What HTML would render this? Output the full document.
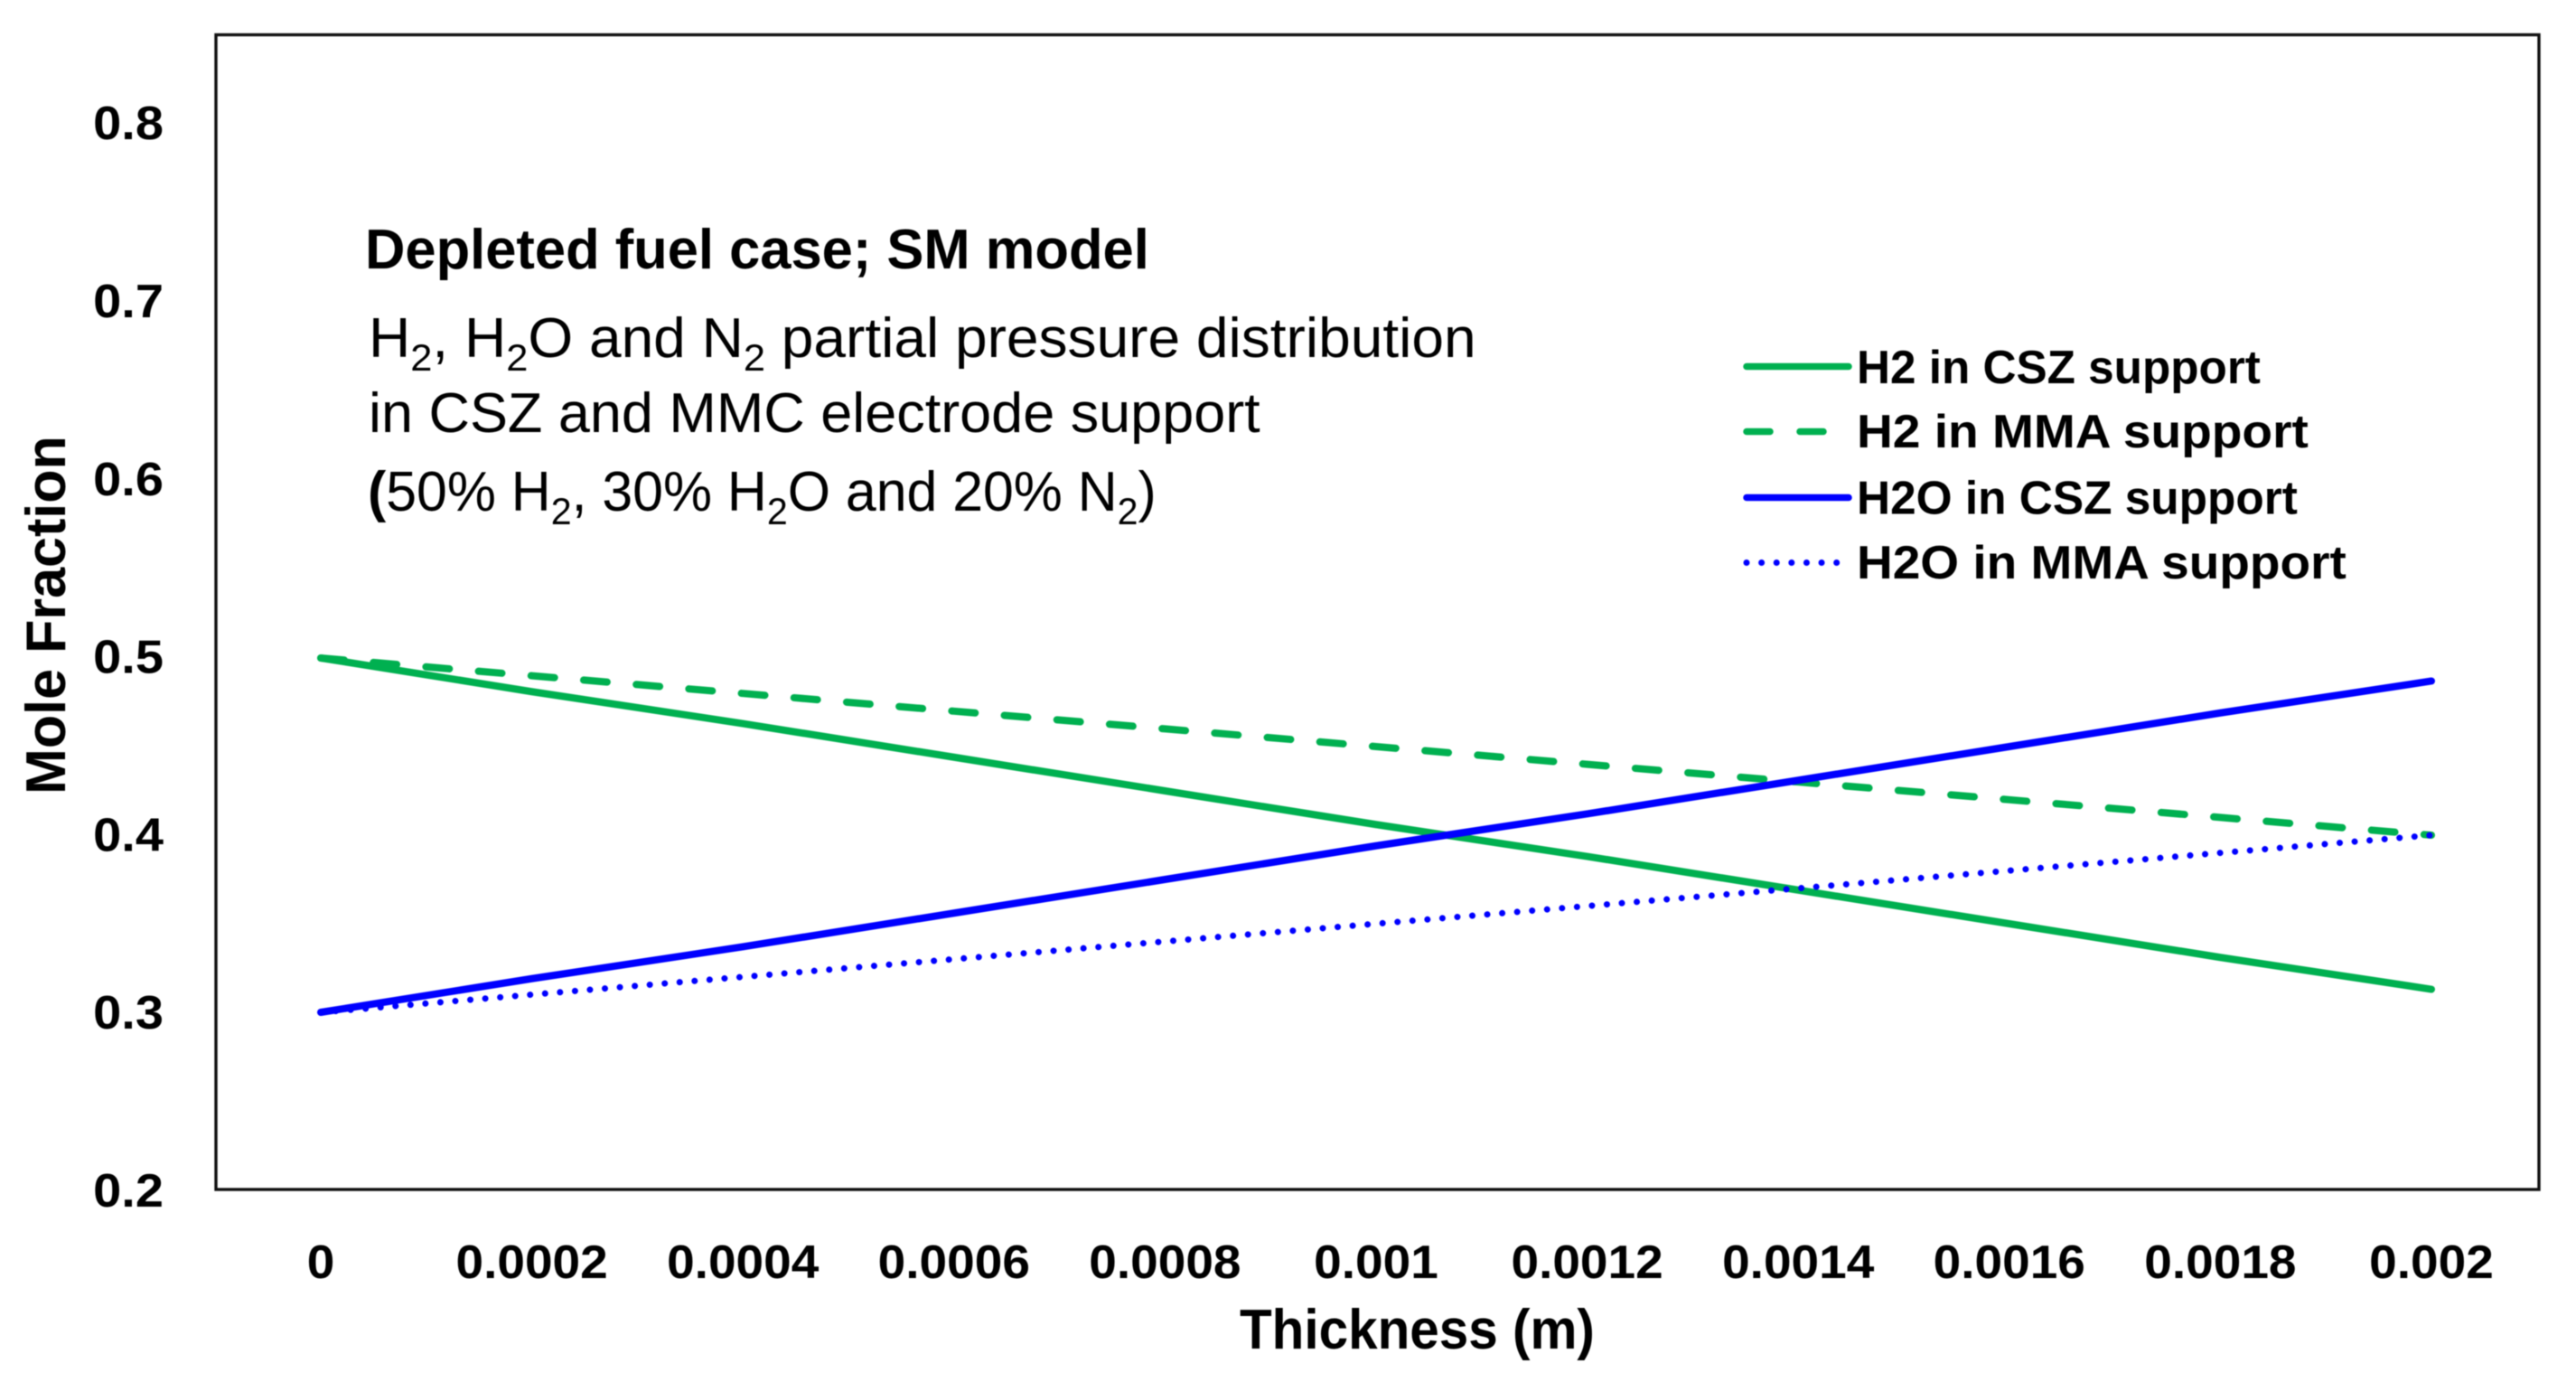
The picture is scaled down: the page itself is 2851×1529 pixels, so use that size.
<!DOCTYPE html>
<html lang="en">
<head>
<meta charset="utf-8">
<title>Depleted fuel case; SM model</title>
<style>
html,body{margin:0;padding:0;background:#fff;}
svg{display:block;filter:blur(0.6px);}
text{font-family:"Liberation Sans",sans-serif;fill:#000;}
.bold{font-weight:bold;}
</style>
</head>
<body>
<svg id="chart" xmlns="http://www.w3.org/2000/svg" width="2851" height="1529" viewBox="0 0 2851 1529">
  <rect x="0" y="0" width="2851" height="1529" fill="#ffffff"/>
  <rect x="239" y="38.5" width="2571" height="1277.5" fill="none" stroke="#111111" stroke-width="3.4"/>
  <g id="series-layer"></g>
  <g id="y-ticks"></g>
  <g id="x-ticks"></g>

  <text class="bold fit" data-w="393" x="1372" y="1492" font-size="62">Thickness (m)</text>
  <text class="bold fit" data-w="397" data-rot="1" x="72" y="879" font-size="62">Mole Fraction</text>

  <text class="bold fit" data-w="868" x="404" y="297" font-size="62">Depleted fuel case; SM model</text>
  <text class="fit" data-w="1226" x="408" y="395" font-size="62">H<tspan font-size="42" dy="15">2</tspan><tspan dy="-15">, H</tspan><tspan font-size="42" dy="15">2</tspan><tspan dy="-15">O and N</tspan><tspan font-size="42" dy="15">2</tspan><tspan dy="-15"> partial pressure distribution</tspan></text>
  <text class="fit" data-w="987" x="408" y="478" font-size="62">in CSZ and MMC electrode support</text>
  <text class="fit" data-w="873" x="407" y="565" font-size="62"><tspan font-weight="bold">(</tspan>50% H<tspan font-size="42" dy="15">2</tspan><tspan dy="-15">, 30% H</tspan><tspan font-size="42" dy="15">2</tspan><tspan dy="-15">O and 20% N</tspan><tspan font-size="42" dy="15">2</tspan><tspan dy="-15">)</tspan></text>

  <g id="legend">
    <line x1="1933" y1="405.5" x2="2046" y2="405.5" stroke="#00B050" stroke-width="7.5" stroke-linecap="round"/>
    <text class="bold fit" data-w="447" x="2055" y="424" font-size="52">H2 in CSZ support</text>
    <line x1="1933" y1="477.5" x2="2018" y2="477.5" stroke="#00B050" stroke-width="7.5" stroke-linecap="round" stroke-dasharray="26 33"/>
    <text class="bold fit" data-w="500" x="2055" y="495" font-size="52">H2 in MMA support</text>
    <line x1="1933" y1="550.5" x2="2046" y2="550.5" stroke="#0000FF" stroke-width="7.5" stroke-linecap="round"/>
    <text class="bold fit" data-w="488" x="2055" y="568.5" font-size="52">H2O in CSZ support</text>
    <line x1="1933" y1="622.5" x2="2040" y2="622.5" stroke="#0000FF" stroke-width="7" stroke-linecap="round" stroke-dasharray="0.01 16.6"/>
    <text class="bold fit" data-w="542" x="2055" y="640" font-size="52">H2O in MMA support</text>
  </g>
</svg>

<script>
// Chart data
const thickness = [0, 0.0002, 0.0004, 0.0006, 0.0008, 0.001, 0.0012, 0.0014, 0.0016, 0.0018, 0.002];
const xTickLabels = ["0", "0.0002", "0.0004", "0.0006", "0.0008", "0.001", "0.0012", "0.0014", "0.0016", "0.0018", "0.002"];
const yTickValues = [0.2, 0.3, 0.4, 0.5, 0.6, 0.7, 0.8];
const yTickLabels = ["0.2", "0.3", "0.4", "0.5", "0.6", "0.7", "0.8"];
const h2Csz = [0.5, 0.481, 0.463, 0.444, 0.425, 0.406, 0.388, 0.369, 0.35, 0.331, 0.313];
const h2Mma = [0.5, 0.49, 0.48, 0.47, 0.46, 0.45, 0.44, 0.43, 0.42, 0.41, 0.4];
const h2oCsz = [0.3, 0.319, 0.337, 0.356, 0.375, 0.394, 0.412, 0.431, 0.45, 0.469, 0.487];
const h2oMma = [0.3, 0.31, 0.32, 0.33, 0.34, 0.35, 0.36, 0.37, 0.38, 0.39, 0.4];

const NS = "http://www.w3.org/2000/svg";
function xScale(v) { return 355 + (v / 0.002) * 2336; }
function yScale(v) { return 1316 - ((v - 0.2) / 0.1) * 196; }
function yLabelBaseline(v) { return 1335 - ((v - 0.2) / 0.1) * 196.8; }

function pathFor(values) {
  return values.map(function (v, i) {
    return (i === 0 ? "M" : "L") + xScale(thickness[i]).toFixed(2) + " " + yScale(v).toFixed(2);
  }).join(" ");
}

function drawSeries(values, name, color, width, cap, dash) {
  const p = document.createElementNS(NS, "path");
  p.setAttribute("d", pathFor(values));
  p.setAttribute("fill", "none");
  p.setAttribute("stroke", color);
  p.setAttribute("stroke-width", width);
  p.setAttribute("stroke-linecap", cap);
  p.setAttribute("stroke-linejoin", "round");
  if (dash) p.setAttribute("stroke-dasharray", dash);
  
  
  document.getElementById("series-layer").appendChild(p);
}
drawSeries(h2Csz, "line-h2-csz", "#00B050", 8, "round", null);
drawSeries(h2Mma, "line-h2-mma", "#00B050", 8, "round", "26 32.4");
drawSeries(h2oCsz, "line-h2o-csz", "#0000FF", 8, "round", null);
drawSeries(h2oMma, "line-h2o-mma", "#0000FF", 7, "round", "0.01 16.6");

function stretch(el, sx, ax, ay) {
  el.setAttribute("transform", "translate(" + ax + " " + ay + ") scale(" + sx + " 1) translate(" + (-ax) + " " + (-ay) + ")");
}

yTickValues.forEach(function (v, i) {
  const by = yLabelBaseline(v);
  const t = document.createElementNS(NS, "text");
  t.setAttribute("x", 181);
  t.setAttribute("y", by);
  t.setAttribute("text-anchor", "end");
  t.setAttribute("font-size", 52);
  t.setAttribute("class", "bold");
  t.textContent = yTickLabels[i];
  
  
  document.getElementById("y-ticks").appendChild(t);
  stretch(t, 1.077, 181, by);
});

thickness.forEach(function (v, i) {
  const cx = xScale(v);
  const t = document.createElementNS(NS, "text");
  t.setAttribute("x", cx);
  t.setAttribute("y", 1414);
  t.setAttribute("text-anchor", "middle");
  t.setAttribute("font-size", 52);
  t.setAttribute("class", "bold");
  t.textContent = xTickLabels[i];
  
  
  document.getElementById("x-ticks").appendChild(t);
  stretch(t, 1.058, cx, 1414);
});

// Fit static text to its measured width in the reference (Calibri-like metrics)
document.querySelectorAll("text.fit").forEach(function (el) {
  const target = parseFloat(el.getAttribute("data-w"));
  const x = parseFloat(el.getAttribute("x"));
  const y = parseFloat(el.getAttribute("y"));
  const sx = target / el.getComputedTextLength();
  if (el.getAttribute("data-rot")) {
    el.setAttribute("transform", "translate(" + x + " " + y + ") rotate(-90) scale(" + sx + " 1) translate(" + (-x) + " " + (-y) + ")");
  } else {
    stretch(el, sx, x, y);
  }
});
</script>
</body>
</html>
